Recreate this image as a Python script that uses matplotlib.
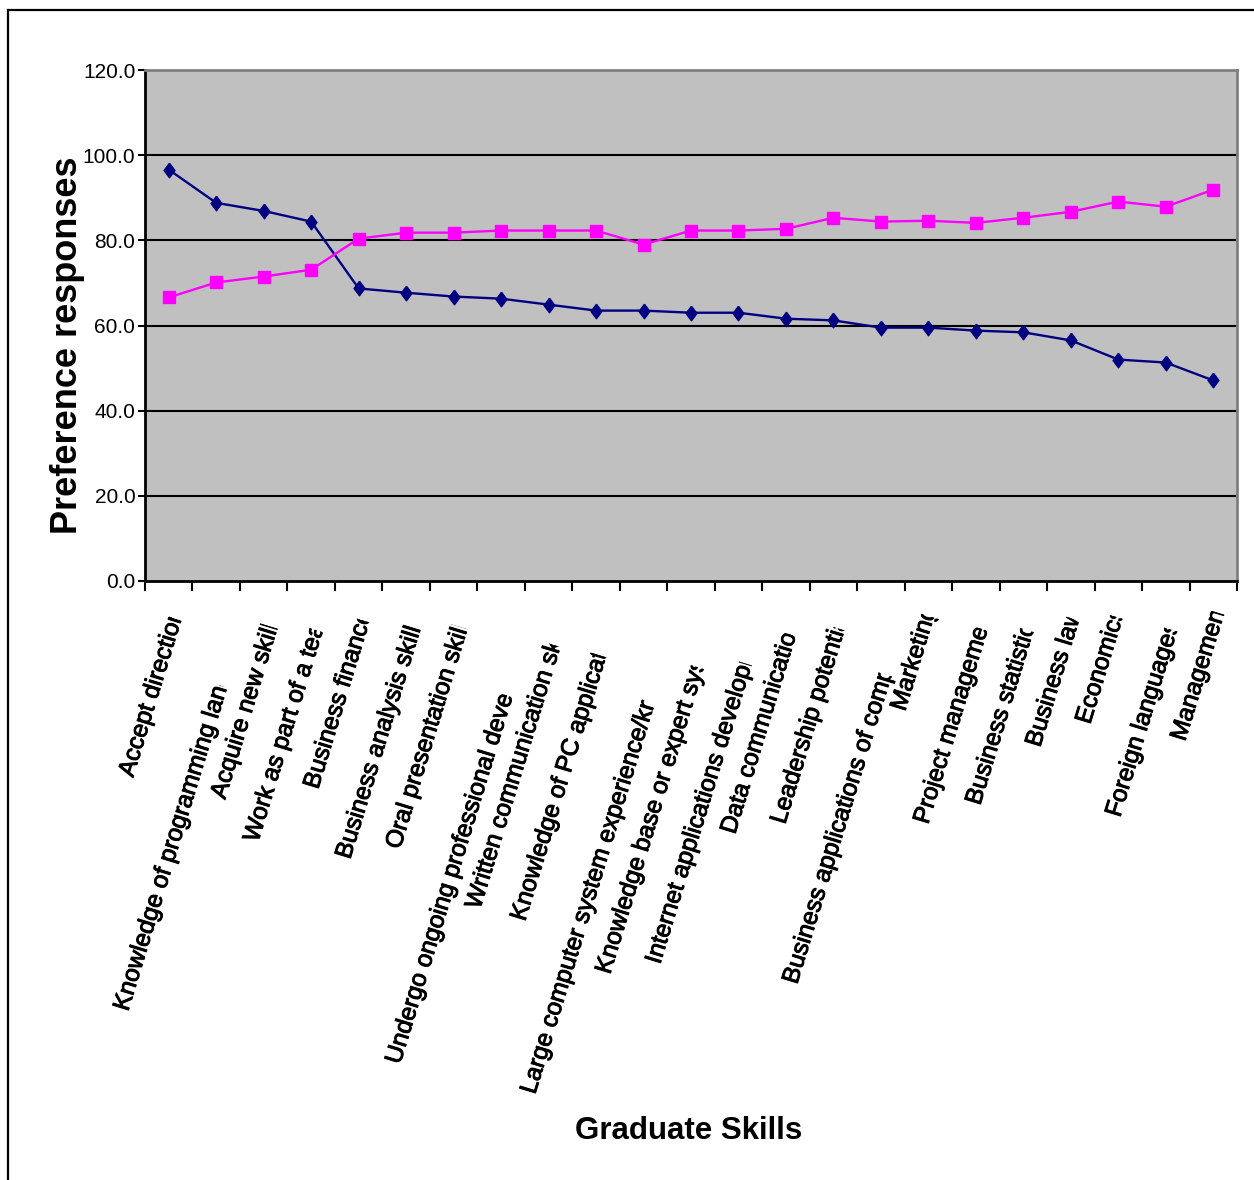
import matplotlib
matplotlib.use("Agg")
import matplotlib.pyplot as plt
from matplotlib import patheffects
from matplotlib.patches import Rectangle
from matplotlib.path import Path
from matplotlib.transforms import Affine2D

skills = [
    "Accept direction", "Knowledge of programming languages", "Acquire new skills",
    "Work as part of a team", "Business finance", "Business analysis skills",
    "Oral presentation skills", "Undergo ongoing professional development",
    "Written communication skills", "Knowledge of PC applications",
    "Large computer system experience/knowledge", "Knowledge base or expert systems",
    "Internet applications development", "Data communications", "Leadership potential",
    "Business applications of computers", "Marketing", "Project management",
    "Business statistics", "Business law", "Economics", "Foreign languages", "Management",
]
series_a = [96.6, 88.8, 86.9, 84.4, 68.7, 67.7, 66.8, 66.3, 64.9, 63.5, 63.5, 63.0,
            63.0, 61.6, 61.2, 59.5, 59.5, 58.8, 58.4, 56.5, 52.0, 51.3, 47.1]
series_b = [66.6, 70.1, 71.5, 73.1, 80.4, 81.8, 81.8, 82.3, 82.3, 82.3, 79.0, 82.3,
            82.3, 82.7, 85.3, 84.4, 84.6, 84.1, 85.3, 86.7, 89.1, 87.9, 91.9]
y_ticks = [0, 20, 40, 60, 80, 100, 120]

# label boxes in pixels: start of text and where the box cuts it off
label_start = [(133, 778), (128, 1012), (225, 800), (258, 843), (318, 790), (350, 860),
               (400, 850), (400, 1065), (480, 910), (525, 922), (535, 1095), (610, 975),
               (660, 965), (735, 835), (785, 825), (797, 985), (905, 712), (928, 825),
               (980, 806), (1040, 748), (1090, 725), (1120, 818), (1185, 742)]
label_cut = [(180, 620), (228, 688), (275, 628), (322, 632), (368, 622), (416, 628),
             (463, 628), (512, 697), (557, 646), (605, 657), (653, 703), (700, 668),
             (750, 665), (795, 636), (843, 630), (890, 676), (938, 619), (985, 630),
             (1033, 632), (1080, 621), (1126, 620), (1172, 630), (1225, 615)]

W, H = 1254, 1180
ANGLE = 73
plt.rcParams["font.family"] = ["Liberation Sans", "DejaVu Sans"]

fig = plt.figure(figsize=(W / 100, H / 100), dpi=100)
fig.patch.set_facecolor("white")
# outer frame, only its top and left edges fall inside the image
fig.add_artist(Rectangle((8 / W, -0.2), 2, 1.2 - 10 / H, transform=fig.transFigure,
                         fill=False, edgecolor="black", linewidth=1.6))

ax = fig.add_axes([145 / W, (H - 581) / H, 1092 / W, 511 / H])
ax.set_facecolor("#C0C0C0")

x = list(range(len(skills)))
diamond = [(0, 1), (0.75, 0), (0, -1), (-0.75, 0), (0, 1)]
ax.plot(x, series_a, color="#000080", linewidth=1.7, marker=diamond, markersize=10.5,
        markerfacecolor="#000080", markeredgecolor="#000080", zorder=3)
ax.plot(x, series_b, color="#FF00FF", linewidth=1.7, marker="s", markersize=8,
        markerfacecolor="#FF00FF", markeredgecolor="#FF00FF", zorder=3)

ax.set_xlim(-0.5, len(skills) - 0.5)
ax.set_ylim(0, 120)
ax.set_yticks(y_ticks)
ax.set_yticklabels([f"{v:.1f}" for v in y_ticks], fontsize=15)
for v in y_ticks[1:-1]:
    ax.axhline(v, color="black", linewidth=1.5, zorder=1)

ax.set_xticks([i - 0.5 for i in range(len(skills) + 1)])
ax.set_xticklabels([])
ax.tick_params(axis="x", direction="out", length=7, width=1.5, color="black")
ax.tick_params(axis="y", direction="out", length=5, width=1.5, color="black", pad=2)

for side in ("top", "right"):
    ax.spines[side].set_color("#808080")
    ax.spines[side].set_linewidth(2)
for side in ("left", "bottom"):
    ax.spines[side].set_color("black")
    ax.spines[side].set_linewidth(2)

# rotated category labels, each clipped at the end of its box
# (drawn as paths through the stroke effect so the rotated clip applies)
keep = Path([(-3000, -200), (0, -200), (0, 200), (-3000, 200), (-3000, -200)], closed=True)
for name, (sx, sy), (cx, cy) in zip(skills, label_start, label_cut):
    t = fig.text(sx / W, 1 - sy / H, name, rotation=ANGLE, rotation_mode="anchor",
                 ha="left", va="baseline", fontsize=17.6, color="black",
                 path_effects=[patheffects.withStroke(linewidth=0.7, foreground="black")])
    t.set_clip_path(keep, Affine2D().rotate_deg(ANGLE).translate(cx, H - cy))

fig.text(68 / W, 1 - 345 / H, "Preference responses", rotation=90, ha="center",
         va="center", fontsize=26, fontweight="bold")
fig.text(689 / W, 1 - 1131 / H, "Graduate Skills", ha="center", va="center",
         fontsize=22.5, fontweight="bold")

fig.savefig("out.png", dpi=100)
